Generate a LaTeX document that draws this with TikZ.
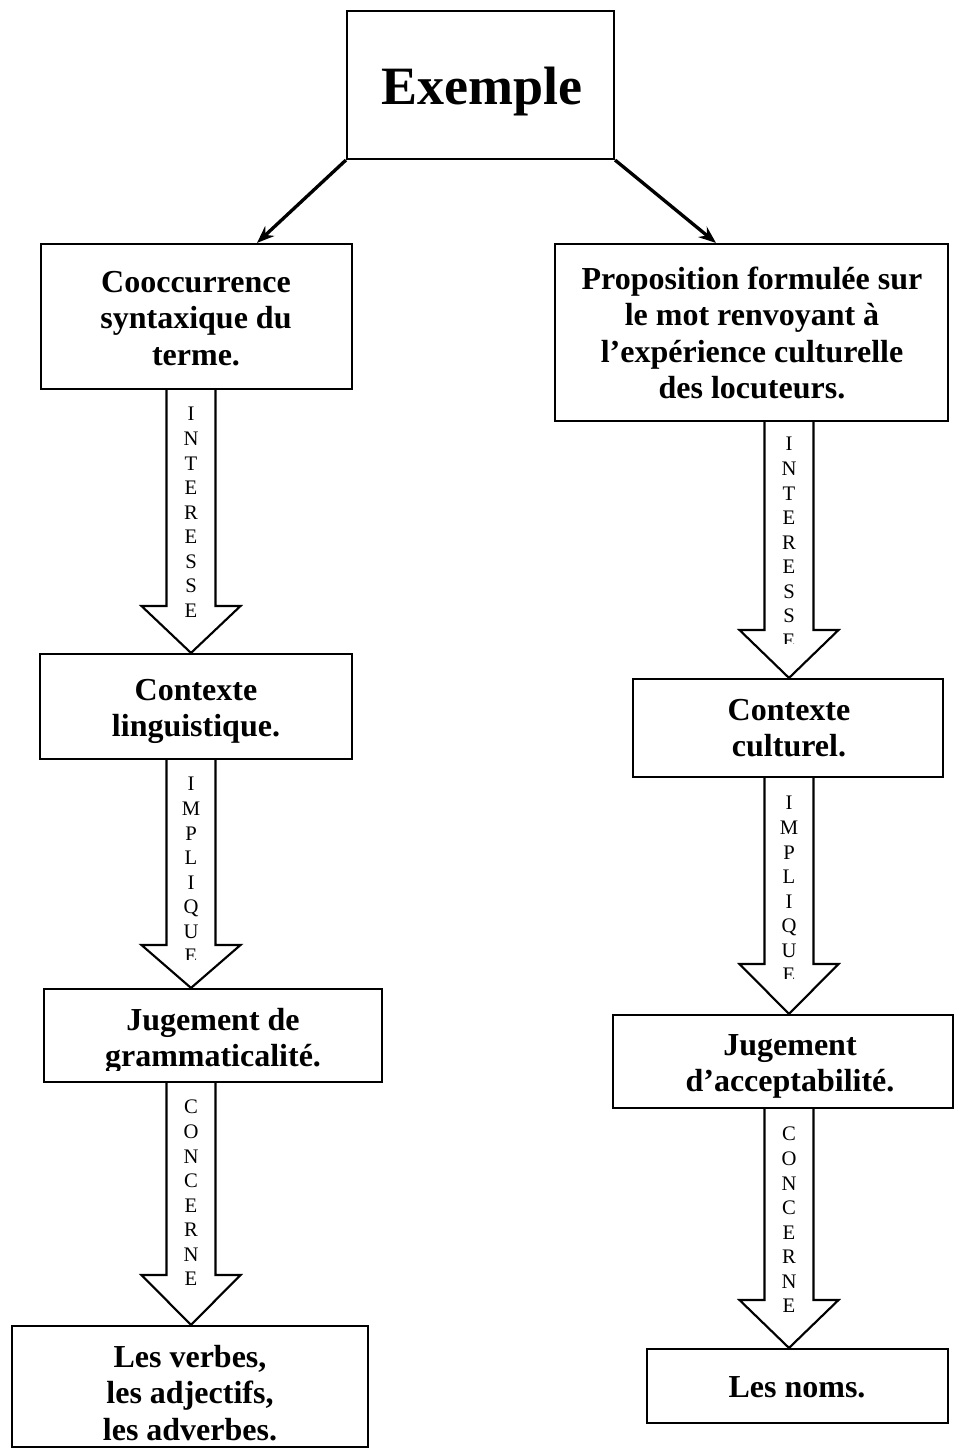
\documentclass[tikz,border=0pt]{standalone}
\usepackage{fontspec}
\setmainfont{Liberation Serif}
\usetikzlibrary{arrows.meta,fit,backgrounds}
\begin{document}
\begin{tikzpicture}[x=0.75pt,y=-0.75pt,
  box/.style={draw, line width=1.6pt, inner sep=0pt},
  boxtext/.style={anchor=north, inner sep=0pt, align=center, font=\fontsize{24}{27.4}\selectfont\bfseries},
  vword/.style={anchor=north, inner sep=0pt, align=center, font=\fontsize{15.5}{18.4}\selectfont},
  fat/.style={draw, fill=white, line width=1.6pt, line join=miter},
  link/.style={line width=2.5pt, -{Stealth[length=13pt,width=10pt]}}]
\useasboundingbox (0,0) rectangle (955,1452);
\newcommand\fatarrow[4]{%
  \draw[fat] (#3-24.5,0 |- #1.south) -- (#3-24.5,#4) -- (#3-49.5,#4) -- (#3,0 |- #2.north)
     -- (#3+49.5,#4) -- (#3+24.5,#4) -- (#3+24.5,0 |- #1.south);}

% boxes
\node[box, fit={(347,11)(614,159)}] (ex) {};
\node[box, fit={(41,244)(352,389)}] (cooc) {};
\node[box, fit={(555,244)(948,421)}] (prop) {};
\node[box, fit={(40,654)(352,759)}] (ctxl) {};
\node[box, fit={(44,989)(382,1082)}] (jugg) {};
\node[box, fit={(12,1326)(368,1447)}] (verbs) {};
\node[box, fit={(633,679)(943,777)}] (ctxc) {};
\node[box, fit={(613,1015)(953,1108)}] (juga) {};
\node[box, fit={(647,1349)(948,1423)}] (noms) {};

% texts
\node[boxtext, font=\fontsize{40.5}{48}\selectfont\bfseries] (ext) at (482,50) {\rule{0pt}{40.5pt}Exemple};
\node[boxtext] (cooct) at (196,260) {\rule{0pt}{24pt}Cooccurrence\\syntaxique du\\terme.};
\node[boxtext] (propt) at (752,257) {\rule{0pt}{24pt}Proposition formulée sur\\le mot renvoyant à\\l’expérience culturelle\\des locuteurs.};
\node[boxtext] (ctxlt) at (196,668) {\rule{0pt}{24pt}Contexte\\linguistique.};
\begin{scope}
\clip (0,0) rectangle (955,1070);
\node[boxtext] (juggt) at (213,998) {\rule{0pt}{24pt}Jugement de\\grammaticalité.};
\end{scope}
\node[boxtext] (verbst) at (190,1335) {\rule{0pt}{24pt}Les verbes,\\les adjectifs,\\les adverbes.};
\node[boxtext] (ctxct) at (789,688) {\rule{0pt}{24pt}Contexte\\culturel.};
\node[boxtext] (jugat) at (790,1023) {\rule{0pt}{24pt}Jugement\\d’acceptabilité.};
\node[boxtext] (nomst) at (797,1365) {\rule{0pt}{24pt}Les noms.};

% links from Exemple
\draw[link] (ex.south west) -- (257,0 |- cooc.north);
\draw[link] (ex.south east) -- (716,0 |- prop.north);

% fat arrows
\begin{scope}[on background layer]
\fatarrow{cooc}{ctxl}{191}{606}
\fatarrow{ctxl}{jugg}{191}{945}
\fatarrow{jugg}{verbs}{191}{1275}
\fatarrow{prop}{ctxc}{789}{630}
\fatarrow{ctxc}{juga}{789}{964}
\fatarrow{juga}{noms}{789}{1300}
\end{scope}

% words in arrows
\node[vword] (w1) at (191,400) {\rule{0pt}{15.5pt}I\\N\\T\\E\\R\\E\\S\\S\\E};
\begin{scope}
\clip (0,0) rectangle (955,959);
\node[vword] (w2) at (191,770) {\rule{0pt}{15.5pt}I\\M\\P\\L\\I\\Q\\U\\E};
\end{scope}
\node[vword] (w3) at (191,1093) {\rule{0pt}{15.5pt}C\\O\\N\\C\\E\\R\\N\\E};
\begin{scope}
\clip (0,0) rectangle (955,643);
\node[vword] (w4) at (789,430) {\rule{0pt}{15.5pt}I\\N\\T\\E\\R\\E\\S\\S\\E};
\end{scope}
\begin{scope}
\clip (0,0) rectangle (955,978);
\node[vword] (w5) at (789,789) {\rule{0pt}{15.5pt}I\\M\\P\\L\\I\\Q\\U\\E};
\end{scope}
\node[vword] (w6) at (789,1120) {\rule{0pt}{15.5pt}C\\O\\N\\C\\E\\R\\N\\E};
\end{tikzpicture}
\end{document}
